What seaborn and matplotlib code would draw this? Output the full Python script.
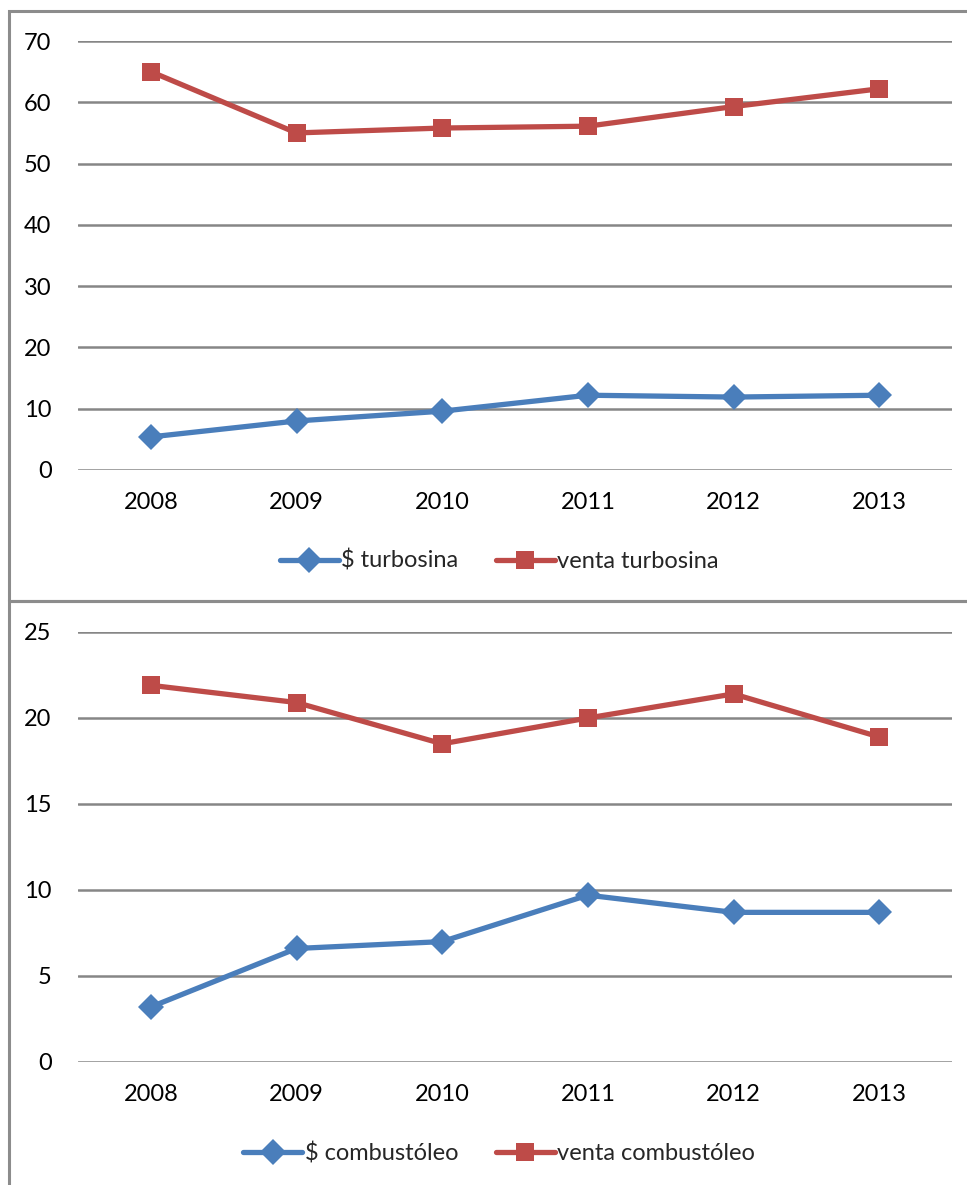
import matplotlib
matplotlib.use("Agg")
import matplotlib.pyplot as plt
import seaborn as sns
import pandas as pd
from matplotlib.lines import Line2D
from matplotlib.patches import Rectangle

years = [2008, 2009, 2010, 2011, 2012, 2013]
precio_turbosina = [5.4, 8.0, 9.6, 12.2, 11.9, 12.2]
venta_turbosina = [65.0, 55.0, 55.8, 56.1, 59.3, 62.2]
precio_combustoleo = [3.2, 6.6, 7.0, 9.7, 8.7, 8.7]
venta_combustoleo = [21.9, 20.9, 18.5, 20.0, 21.4, 18.9]

labels_top = ["$ turbosina", "venta turbosina"]
labels_bot = ["$ combustóleo", "venta combustóleo"]

BLUE = "#4A7EBB"
RED = "#BE4B48"
GRID = "#868686"
FS = 17

sns.set_theme(style="white")
plt.rcParams["font.family"] = ["Lato", "DejaVu Sans"]

fig = plt.figure(figsize=(9.67, 11.85), dpi=100)

# panel borders
for (y0, y1) in [(11, 601), (601, 1195)]:
    fig.patches.append(Rectangle((9 / 967, 1 - y1 / 1185), (975 - 9) / 967, (y1 - y0) / 1185,
                                 transform=fig.transFigure, fill=False,
                                 edgecolor="#8c8c8c", linewidth=2.2))

def panel(ax, a, b, labels, ymax, step):
    df = pd.DataFrame({
        "year": years * 2,
        "value": a + b,
        "series": [labels[0]] * len(years) + [labels[1]] * len(years),
    })
    sns.lineplot(data=df, x="year", y="value", hue="series", style="series",
                 palette={labels[0]: BLUE, labels[1]: RED},
                 markers={labels[0]: "D", labels[1]: "s"}, dashes=False,
                 linewidth=3.8, markersize=13, markeredgewidth=0,
                 ax=ax, legend=False, zorder=3)
    ax.set_xlim(2007.5, 2013.5)
    ax.set_ylim(0, ymax)
    ax.set_yticks(range(0, ymax + 1, step))
    ax.set_xticks(years)
    ax.set_xticklabels([str(y) for y in years])
    ax.yaxis.grid(True, color=GRID, linewidth=1.8)
    ax.xaxis.grid(False)
    for s in ax.spines.values():
        s.set_visible(False)
    ax.tick_params(axis="y", length=0, pad=19, labelsize=FS, colors="black")
    ax.tick_params(axis="x", length=0, pad=16, labelsize=FS, colors="black")
    ax.set_xlabel("")
    ax.set_ylabel("")
    ax.set_facecolor("none")
    handles = [
        Line2D([], [], color=BLUE, marker="D", linewidth=3.8, markersize=13, markeredgewidth=0),
        Line2D([], [], color=RED, marker="s", linewidth=3.8, markersize=13, markeredgewidth=0),
    ]
    ax.legend(handles, labels, loc="center", bbox_to_anchor=(0.482, -0.212),
              ncol=2, frameon=False, fontsize=FS, handlelength=2.5,
              handletextpad=0.1, columnspacing=1.6)

left = 78 / 967
width = 874 / 967
ax1 = fig.add_axes([left, 1 - 470 / 1185, width, 429 / 1185])
ax2 = fig.add_axes([left, 1 - 1062 / 1185, width, 430 / 1185])

panel(ax1, precio_turbosina, venta_turbosina, labels_top, 70, 10)
panel(ax2, precio_combustoleo, venta_combustoleo, labels_bot, 25, 5)

fig.savefig("out.png", dpi=100, facecolor="white")
